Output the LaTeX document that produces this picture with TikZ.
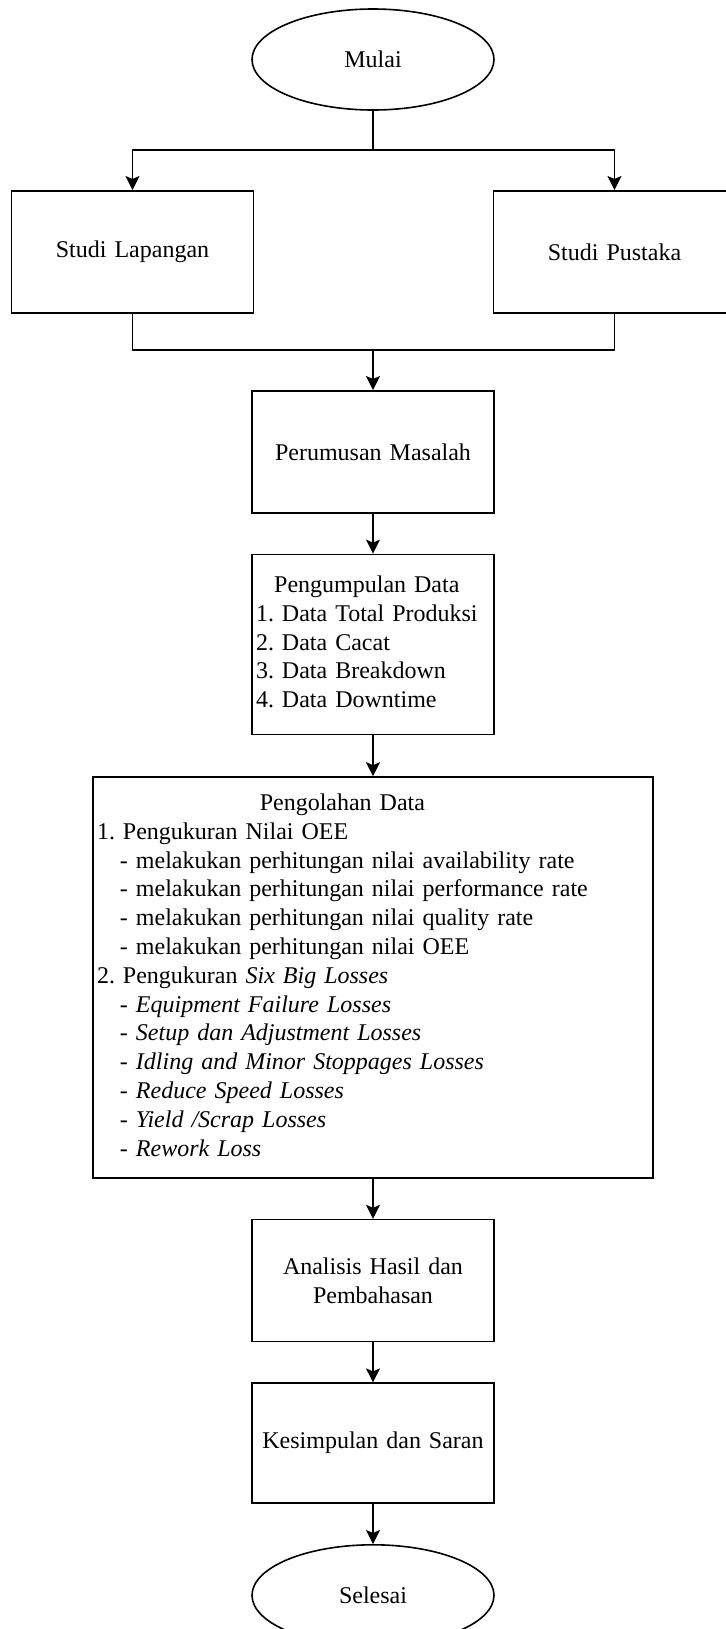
\documentclass[tikz,border=0pt]{standalone}
\usepackage{fontspec}
\setmainfont{Liberation Serif}
\usetikzlibrary{shapes.geometric}
\usetikzlibrary{arrows.meta}
\usetikzlibrary{positioning}

\newcommand{\subpoint}{\hspace*{11.5pt}- }
\frenchspacing

\begin{document}
\begin{tikzpicture}
[auto,
terminal/.style  = {ellipse, draw, line width=0.8pt, minimum width=121pt, minimum height=50.5pt, inner sep=0pt},
block/.style     = {rectangle, draw, line width=0.8pt, minimum width=121pt, minimum height=61pt, text width=115pt, align=center, inner sep=0pt},
listblock/.style = {block, align=left, inner xsep=2pt, text width=117pt},
link/.style      = {draw, line width=0.8pt},
line/.style      = {link, -{Stealth[length=7pt,width=7pt,inset=1.5pt]}},
every node/.style = {font=\fontsize{12}{14.4}\selectfont},
node distance = 20pt
]

\useasboundingbox (0,0) rectangle (363pt,-814.5pt);

% start and the two studies
\node [terminal] (mulai) at (186.5pt,-29.75pt) {Mulai};
\node [block, anchor=north] (studi_lapangan) at (66.25pt,-95pt) {Studi Lapangan};
\node [block, anchor=north] (studi_pustaka) at (307.25pt,-95pt) {Studi Pustaka};
\coordinate (split) at (186.5pt,-75pt);
\coordinate (merge) at (186.5pt,-175pt);

% main column
\node [block, anchor=north] (perumusan) at (186.5pt,-195pt) {Perumusan Masalah};
\node [listblock, below=of perumusan, minimum height=90pt] (pengumpulan) {%
\begin{tabular}{@{}l@{}}
\multicolumn{1}{@{}c@{}}{Pengumpulan Data}\\
1. Data Total Produksi\\
2. Data Cacat\\
3. Data Breakdown\\
4. Data Downtime
\end{tabular}};
\node [listblock, below=20.5pt of pengumpulan, minimum width=280pt, text width=276pt, minimum height=200.5pt] (pengolahan) {%
\begin{tabular}{@{}l@{}}
\multicolumn{1}{@{}c@{}}{Pengolahan Data}\\
1. Pengukuran Nilai OEE\\
\subpoint melakukan perhitungan nilai availability rate\\
\subpoint melakukan perhitungan nilai performance rate\\
\subpoint melakukan perhitungan nilai quality rate\\
\subpoint melakukan perhitungan nilai OEE\\
2. Pengukuran \textit{Six Big Losses}\\
\subpoint\textit{Equipment Failure Losses}\\
\subpoint\textit{Setup dan Adjustment Losses}\\
\subpoint\textit{Idling and Minor Stoppages Losses}\\
\subpoint\textit{Reduce Speed Losses}\\
\subpoint\textit{Yield /Scrap Losses}\\
\subpoint\textit{Rework Loss}
\end{tabular}};
\node [block, below=of pengolahan] (analisis) {Analisis Hasil dan\\Pembahasan};
\node [block, below=of analisis, minimum height=60pt] (kesimpulan) {Kesimpulan dan Saran};
\node [terminal, below=of kesimpulan] (selesai) {Selesai};

\begin{scope}[every path/.style=line]
\path (mulai) -- (split) -| (studi_lapangan);
\path (mulai) -- (split) -| (studi_pustaka);
\path (merge) -- (perumusan);
\path (perumusan) -- (pengumpulan);
\path (pengumpulan) -- (pengolahan);
\path (pengolahan) -- (analisis);
\path (analisis) -- (kesimpulan);
\path (kesimpulan) -- (selesai);
\end{scope}

\draw [link] (studi_lapangan) |- (merge);
\draw [link] (studi_pustaka) |- (merge);

\end{tikzpicture}
\end{document}
